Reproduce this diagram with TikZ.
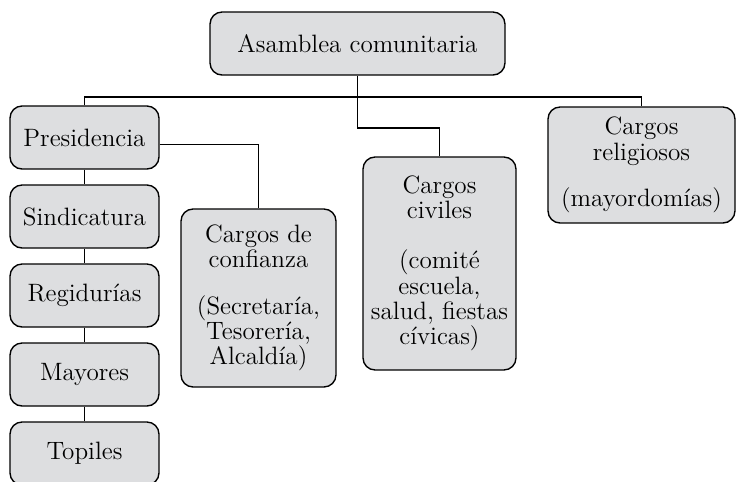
\documentclass[tikz,border=0pt]{standalone}
\usepackage{fontspec}
\usepackage{tikz}
\definecolor{boxgray}{RGB}{221,222,224}
\tikzset{
    cargo/.style={draw,fill=boxgray,rounded corners=0.24cm,line width=0.8pt,align=center,inner sep=0pt,
                  font=\fontsize{14.3}{14.4}\selectfont},
    every path/.append style={line width=0.8pt}
}

\begin{document}
\begin{tikzpicture}[x=0.02cm,y=-0.02cm]
    \useasboundingbox (0,0) rectangle (738,481);
    \node[cargo,minimum width=5.9cm,minimum height=1.26cm] (asamblea) at (357.5,43.5) {Asamblea comunitaria};
    \node[cargo,minimum width=2.98cm,minimum height=1.26cm] (presidencia) at (84.5,137.5) {Presidencia};
    \node[cargo,minimum width=2.98cm,minimum height=1.26cm] (sindicatura) at (84.5,216.5) {Sindicatura};
    \node[cargo,minimum width=2.98cm,minimum height=1.26cm] (regidurias) at (84.5,295.5) {Regidurías};
    \node[cargo,minimum width=2.98cm,minimum height=1.26cm] (mayores) at (84.5,374.5) {Mayores};
    \node[cargo,minimum width=2.98cm,minimum height=1.26cm] (topiles) at (84.5,453.5) {Topiles};
    \node[cargo,minimum width=3.1cm,minimum height=3.56cm] (confianza) at (258.5,298) {Cargos de\\confianza\\[12pt](Secretaría,\\Tesorería,\\Alcaldía)};
    \node[cargo,minimum width=3.06cm,minimum height=4.26cm] (civiles) at (439.5,263.5) {Cargos\\civiles\\[14pt](comité\\escuela,\\salud, fiestas\\cívicas)};
    \node[cargo,minimum width=3.74cm,minimum height=2.32cm] (religiosos) at (641.5,165) {Cargos\\religiosos\\[12pt](mayordomías)};

    \coordinate (bus) at (0,97);
    \coordinate (paso) at (0,128);
    \draw (presidencia.north) -- (presidencia.north |- bus) -- (religiosos.north |- bus) -- (religiosos.north);
    \draw (asamblea.south) -- (asamblea.south |- paso) -- (civiles.north |- paso) -- (civiles.north);
    \draw ([yshift=-4pt]presidencia.east) -| (confianza.north);
    \foreach \a/\b in {presidencia/sindicatura,sindicatura/regidurias,regidurias/mayores,mayores/topiles}
        \draw (\a.south) -- (\b.north);
\end{tikzpicture}
\end{document}
